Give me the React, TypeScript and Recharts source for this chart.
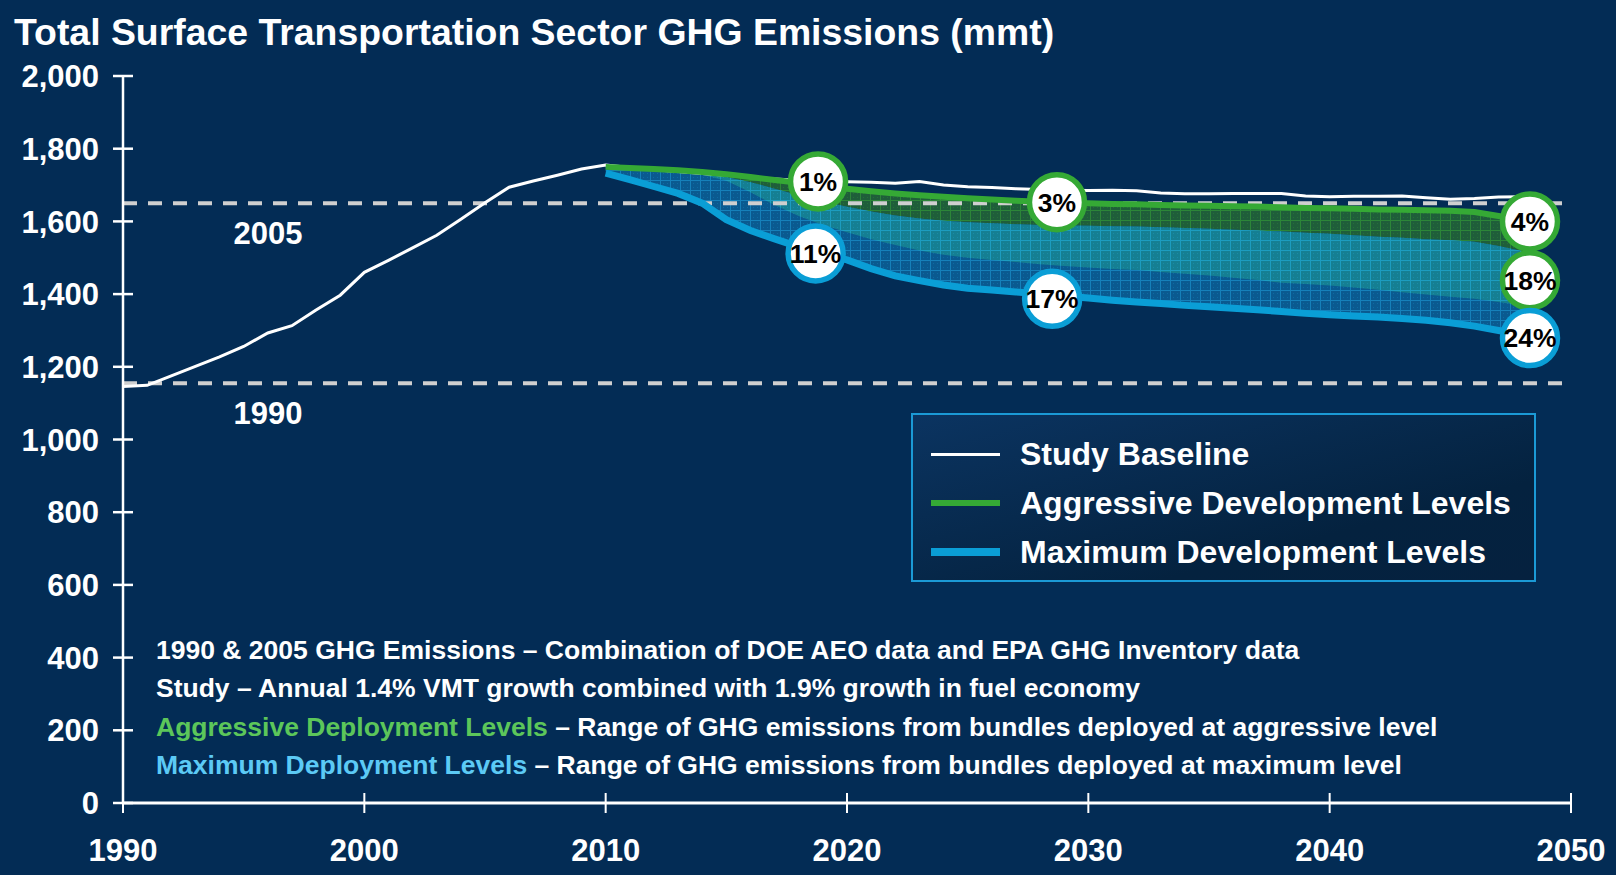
import { Area, ComposedChart, Line, ReferenceDot, ReferenceLine, XAxis, YAxis } from "recharts";

const NAVY = "#032c55";
const WHITE = "#ffffff";
const GREEN = "#35a935";
const BLUE = "#0a9ed6";
const DASH = "#cfcfcf";
const NOTE_GREEN = "#5cc65a";
const NOTE_BLUE = "#5ccaf5";
const FONT = '"Liberation Sans", Arial, Helvetica, sans-serif';

// study baseline, 1990-2048 (mmt)
const baselineYears = [
  1990, 1991, 1992, 1993, 1994, 1995, 1996, 1997, 1998, 1999,
  2000, 2001, 2002, 2003, 2004, 2005, 2006, 2007, 2008, 2009,
  2010, 2011, 2012, 2013, 2014, 2015, 2016, 2017, 2018, 2019,
  2020, 2021, 2022, 2023, 2024, 2025, 2026, 2027, 2028, 2029,
  2030, 2031, 2032, 2033, 2034, 2035, 2036, 2037, 2038, 2039,
  2040, 2041, 2042, 2043, 2044, 2045, 2046, 2047, 2048,
];
const baselineValues = [
  1146, 1149, 1175, 1201, 1227, 1256, 1293, 1313, 1356, 1397,
  1460, 1493, 1527, 1562, 1606, 1651, 1694, 1711, 1727, 1744,
  1755, 1748, 1742, 1737, 1732, 1727, 1722, 1717, 1713, 1710,
  1709, 1708, 1705, 1710, 1700, 1695, 1693, 1690, 1688, 1686,
  1685, 1686, 1684, 1678, 1676, 1676, 1677, 1677, 1677, 1670,
  1668, 1669, 1669, 1670, 1665, 1661, 1663, 1667, 1668,
];

// scenario bands, 2010-2048
const scenarioYears = [
  2010, 2011, 2012, 2013, 2014, 2015, 2016, 2017, 2018, 2019,
  2020, 2021, 2022, 2023, 2024, 2025, 2026, 2027, 2028, 2029,
  2030, 2031, 2032, 2033, 2034, 2035, 2036, 2037, 2038, 2039,
  2040, 2041, 2042, 2043, 2044, 2045, 2046, 2047, 2048,
];
const aggressiveHigh = [
  1750, 1747, 1744, 1741, 1736, 1730, 1722, 1714, 1706, 1698,
  1690, 1683, 1677, 1672, 1668, 1664, 1660, 1657, 1654, 1652,
  1650, 1648, 1647, 1645, 1644, 1643, 1642, 1641, 1639, 1637,
  1636, 1635, 1633, 1632, 1631, 1629, 1626, 1615, 1603,
];
const aggressiveLow = [
  1748, 1744, 1740, 1735, 1728, 1712, 1680, 1645, 1615, 1590,
  1570, 1551, 1535, 1520, 1508, 1500, 1494, 1488, 1482, 1477,
  1473, 1469, 1466, 1461, 1456, 1451, 1445, 1439, 1431, 1428,
  1424, 1418, 1412, 1405, 1399, 1393, 1387, 1378, 1368,
];
const maximumHigh = [
  1750, 1746, 1742, 1738, 1732, 1722, 1708, 1690, 1672, 1655,
  1640, 1627, 1616, 1608, 1602, 1598, 1595, 1592, 1590, 1589,
  1588, 1587, 1586, 1584, 1582, 1580, 1577, 1575, 1572, 1569,
  1566, 1562, 1558, 1555, 1551, 1548, 1544, 1532, 1518,
];
const maximumLow = [
  1733, 1715, 1696, 1677, 1650, 1605, 1575, 1552, 1530, 1510,
  1494, 1470, 1450, 1437, 1425, 1416, 1411, 1406, 1401, 1395,
  1389, 1383, 1378, 1374, 1369, 1365, 1361, 1357, 1352, 1347,
  1343, 1340, 1337, 1333, 1328, 1321, 1312, 1300, 1288,
];

const yearTicks = [1990, 2000, 2010, 2020, 2030, 2040, 2050];
const valueTicks = [0, 200, 400, 600, 800, 1000, 1200, 1400, 1600, 1800, 2000];

const referenceLevels = [1650, 1155];
const referenceLabels = ["2005", "1990"];

const calloutYears = [2018.8, 2018.7, 2028.7, 2028.5, 2048.3, 2048.3, 2048.3];
const calloutValues = [1710, 1512, 1653, 1387, 1600, 1438, 1279];
const calloutLabels = ["1%", "11%", "3%", "17%", "4%", "18%", "24%"];
const calloutColors = [GREEN, BLUE, GREEN, BLUE, GREEN, GREEN, BLUE];

const legendLabels = ["Study Baseline", "Aggressive Development Levels", "Maximum Development Levels"];
const legendColors = [WHITE, GREEN, BLUE];
const legendWidths = [3, 6, 8];

const noteLeads = ["", "", "Aggressive Deployment Levels", "Maximum Deployment Levels"];
const noteLeadColors = [WHITE, WHITE, NOTE_GREEN, NOTE_BLUE];
const noteTexts = [
  "1990 & 2005 GHG Emissions – Combination of DOE AEO data and EPA GHG Inventory data",
  "Study – Annual 1.4% VMT growth combined with 1.9% growth in fuel economy",
  " – Range of GHG emissions from bundles deployed at aggressive level",
  " – Range of GHG emissions from bundles deployed at maximum level",
];

const chartData = baselineYears.map((year, i) => {
  const row: Record<string, unknown> = { year, baseline: baselineValues[i] };
  const j = scenarioYears.indexOf(year);
  if (j >= 0) {
    row.aggTop = aggressiveHigh[j];
    row.maxBottom = maximumLow[j];
    row.aggRange = [aggressiveLow[j], aggressiveHigh[j]];
    row.maxRange = [maximumLow[j], maximumHigh[j]];
    // where the two bands overlap
    row.overlap = [aggressiveLow[j], Math.max(aggressiveLow[j], maximumHigh[j])];
  }
  return row;
});

const TICK_SIZE = 10;
const Y_TICK_MARGIN = 14;
const X_TICK_MARGIN = 26;

function YTick(props: any) {
  const { x, y, payload } = props;
  const axisX = x + TICK_SIZE + Y_TICK_MARGIN;
  return (
    <g>
      <line x1={axisX - TICK_SIZE} x2={axisX + TICK_SIZE} y1={y} y2={y} stroke={WHITE} strokeWidth={2.5} />
      <text x={x} y={y} dy="0.36em" textAnchor="end" fill={WHITE} fontSize={31} fontWeight={700} fontFamily={FONT}>
        {Number(payload.value).toLocaleString("en-US")}
      </text>
    </g>
  );
}

function XTick(props: any) {
  const { x, y, payload } = props;
  const axisY = y - TICK_SIZE - X_TICK_MARGIN;
  return (
    <g>
      <line x1={x} x2={x} y1={axisY - TICK_SIZE} y2={axisY + TICK_SIZE} stroke={WHITE} strokeWidth={2} />
      <text x={x} y={y} dy="0.72em" textAnchor="middle" fill={WHITE} fontSize={31} fontWeight={700} fontFamily={FONT}>
        {payload.value}
      </text>
    </g>
  );
}

function LevelLabel(text: string) {
  return (props: any) => {
    const vb = props.viewBox ?? {};
    return (
      <text x={vb.x + 145} y={vb.y + 41} textAnchor="middle" fill={WHITE} fontSize={31} fontWeight={700} fontFamily={FONT}>
        {text}
      </text>
    );
  };
}

function Hatch({ id, base, line }: { id: string; base: string; line: string }) {
  return (
    <pattern id={id} width="10" height="10" patternUnits="userSpaceOnUse">
      <rect width="10" height="10" fill={base} />
      <path d="M0 0.5H10M0.5 0V10" stroke={line} strokeWidth="1" />
      <path d="M3 3h1v1h-1zM7 7h1v1h-1zM7 3h1v1h-1zM3 7h1v1h-1z" fill={line} opacity="0.45" />
    </pattern>
  );
}

export default function App() {
  return (
    <div style={{ position: "relative", width: 1616, height: 875, background: NAVY, fontFamily: FONT, overflow: "hidden" }}>
      <style>{`body{margin:0;background:${NAVY}}`}</style>
      <div
        style={{
          position: "absolute",
          left: 14,
          top: 14,
          fontSize: 37.4,
          lineHeight: 1,
          fontWeight: 700,
          color: WHITE,
          whiteSpace: "nowrap",
        }}
      >
        Total Surface Transportation Sector GHG Emissions (mmt)
      </div>

      <ComposedChart width={1616} height={875} data={chartData} margin={{ top: 76, right: 45, bottom: 0, left: 8 }}>
        <defs>
          <Hatch id="greenHatch" base="#1f5e3a" line="#2c8638" />
          <Hatch id="blueHatch" base="#0a5a90" line="#1580ba" />
          <Hatch id="tealHatch" base="#157f93" line="#1c9cc0" />
        </defs>
        <XAxis
          dataKey="year"
          type="number"
          domain={[1990, 2050]}
          ticks={yearTicks}
          height={72}
          stroke={WHITE}
          axisLine={{ stroke: WHITE, strokeWidth: 3 }}
          tickLine={false}
          tickSize={TICK_SIZE}
          tickMargin={X_TICK_MARGIN}
          tick={<XTick />}
          interval={0}
        />
        <YAxis
          type="number"
          domain={[0, 2000]}
          ticks={valueTicks}
          width={115}
          axisLine={{ stroke: WHITE, strokeWidth: 2.5 }}
          tickLine={false}
          tickSize={TICK_SIZE}
          tickMargin={Y_TICK_MARGIN}
          tick={<YTick />}
          interval={0}
        />
        <Area dataKey="aggRange" type="linear" stroke="none" fill="url(#greenHatch)" fillOpacity={1} isAnimationActive={false} />
        <Area dataKey="maxRange" type="linear" stroke="none" fill="url(#blueHatch)" fillOpacity={1} isAnimationActive={false} />
        <Area dataKey="overlap" type="linear" stroke="none" fill="url(#tealHatch)" fillOpacity={1} isAnimationActive={false} />
        {referenceLevels.map((level, i) => (
          <ReferenceLine
            key={level}
            y={level}
            stroke={DASH}
            strokeWidth={4}
            strokeDasharray="14 11"
            label={LevelLabel(referenceLabels[i])}
          />
        ))}
        <Line dataKey="baseline" type="linear" stroke={WHITE} strokeWidth={3} dot={false} isAnimationActive={false} />
        <Line dataKey="aggTop" type="linear" stroke={GREEN} strokeWidth={6} dot={false} isAnimationActive={false} />
        <Line dataKey="maxBottom" type="linear" stroke={BLUE} strokeWidth={7} dot={false} isAnimationActive={false} />
        {calloutLabels.map((label, i) => (
          <ReferenceDot
            key={label}
            x={calloutYears[i]}
            y={calloutValues[i]}
            r={27.5}
            fill={WHITE}
            stroke={calloutColors[i]}
            strokeWidth={5.5}
            ifOverflow="visible"
            label={{ value: label, position: "center", fill: "#000", fontSize: 26.5, fontWeight: 700, fontFamily: FONT }}
          />
        ))}
      </ComposedChart>

      <div
        style={{
          position: "absolute",
          left: 911,
          top: 413,
          width: 621,
          height: 165,
          border: "2px solid #1b9ad6",
          background: "linear-gradient(165deg, #0b3461 0%, #04223f 70%, #05213f 100%)",
        }}
      >
        {legendLabels.map((label, i) => (
          <div
            key={label}
            style={{
              position: "absolute",
              left: 18,
              top: 20 + i * 49,
              height: 38,
              display: "flex",
              alignItems: "center",
              whiteSpace: "nowrap",
            }}
          >
            <div style={{ width: 69, height: legendWidths[i], background: legendColors[i], marginRight: 20 }} />
            <span style={{ color: WHITE, fontSize: 32, fontWeight: 700 }}>{label}</span>
          </div>
        ))}
      </div>

      {noteTexts.map((text, i) => (
        <div
          key={i}
          style={{
            position: "absolute",
            left: 156,
            top: 632 + i * 38.3,
            fontSize: 26.5,
            lineHeight: "36px",
            fontWeight: 700,
            color: WHITE,
            whiteSpace: "nowrap",
          }}
        >
          {noteLeads[i] ? <span style={{ color: noteLeadColors[i] }}>{noteLeads[i]}</span> : null}
          {text}
        </div>
      ))}
    </div>
  );
}
